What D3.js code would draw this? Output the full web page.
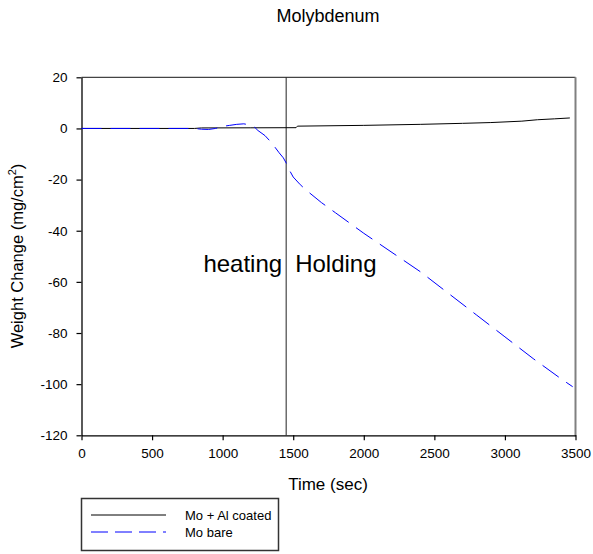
<!DOCTYPE html>
<html>
<head>
    <meta charset="utf-8">
    <title>Molybdenum</title>
    <script src="https://d3js.org/d3.v7.min.js"></script>
    <style>
        body { margin: 0; background: #fff; }
        text { font-family: "Liberation Sans", Arial, sans-serif; fill: #000; }
    </style>
</head>
<body>
    <svg width="593" height="554"></svg>
    <script>
        // data
        var coatedTime   = [0, 800, 850, 1200, 1520, 1530, 2000, 2400, 2700, 2900, 3120, 3230, 3350, 3460];
        var coatedWeight = [0, 0, 0.2, 0.25, 0.3, 0.9, 1.2, 1.6, 2.0, 2.3, 2.85, 3.4, 3.75, 4.1];

        var bareTime   = [0, 400, 800, 850, 900, 950, 1000, 1050, 1100, 1150, 1200, 1230, 1250, 1300, 1350, 1400, 1430, 1450, 1470, 1500, 1550, 1600, 1700, 1800, 2000, 2200, 2400, 2600, 2800, 3000, 3200, 3400, 3480];
        var bareWeight = [0, 0, 0, -0.3, -0.4, 0, 0.8, 1.2, 1.6, 1.8, 1.3, 0.3, -0.8, -2.8, -5.8, -9.5, -11.5, -13.5, -16, -19, -22, -24.5, -29, -33, -41, -48.5, -56, -64.5, -73, -81.5, -90, -98, -101];

        var xTicks = [0, 500, 1000, 1500, 2000, 2500, 3000, 3500];
        var yTicks = [20, 0, -20, -40, -60, -80, -100, -120];
        var dividerTime = 1450;
        var seriesNames = ["Mo + Al coated", "Mo bare"];

        var svg = d3.select("svg");
        var plotLeft = 81.5, plotRight = 575.5, plotTop = 77.3, plotBottom = 435.3;

        var x = d3.scaleLinear().domain([0, 3500]).range([plotLeft, plotRight]);
        var y = d3.scaleLinear().domain([-120, 20]).range([plotBottom, plotTop]);

        // title
        svg.append("text")
            .attr("x", 328).attr("y", 22)
            .attr("text-anchor", "middle")
            .style("font-size", "18px")
            .text("Molybdenum");

        // frame top/right
        svg.append("line")
            .attr("x1", plotLeft).attr("x2", plotRight).attr("y1", plotTop).attr("y2", plotTop)
            .attr("stroke", "#444").attr("stroke-width", 1.2);
        svg.append("line")
            .attr("x1", plotRight).attr("x2", plotRight).attr("y1", plotTop).attr("y2", plotBottom + 1)
            .attr("stroke", "#808080").attr("stroke-width", 2);

        // axes (plain hyphen for negatives, like the original)
        var fmt = function(d) { return String(d); };
        var xAxis = svg.append("g")
            .attr("transform", "translate(0," + plotBottom + ")")
            .call(d3.axisBottom(x).tickValues(xTicks).tickSize(5).tickSizeOuter(0).tickFormat(fmt));
        var yAxis = svg.append("g")
            .attr("transform", "translate(" + plotLeft + ",0)")
            .call(d3.axisLeft(y).tickValues(yTicks).tickSize(5).tickSizeOuter(0).tickFormat(fmt));

        [xAxis, yAxis].forEach(function(a) {
            a.select(".domain").attr("stroke", "#000").attr("stroke-width", 1.3);
            a.selectAll(".tick line").attr("stroke", "#000").attr("stroke-width", 1.2);
            a.selectAll(".tick text")
                .style("font-family", "'Liberation Sans', Arial, sans-serif")
                .style("font-size", "13.5px")
                .attr("fill", "#000");
        });
        xAxis.selectAll(".tick text").attr("y", 13);
        yAxis.selectAll(".tick text").attr("x", -14);

        // axis titles
        svg.append("text")
            .attr("x", 328).attr("y", 490)
            .attr("text-anchor", "middle")
            .style("font-size", "17px")
            .text("Time (sec)");

        var yt = svg.append("text")
            .attr("transform", "translate(23,256) rotate(-90)")
            .attr("text-anchor", "middle")
            .style("font-size", "16.5px");
        yt.append("tspan").text("Weight Change (mg/cm");
        yt.append("tspan").attr("dy", -7).style("font-size", "11px").text("2");
        yt.append("tspan").attr("dy", 7).text(")");

        // divider between heating and holding
        svg.append("line")
            .attr("x1", x(dividerTime)).attr("x2", x(dividerTime))
            .attr("y1", plotTop).attr("y2", plotBottom)
            .attr("stroke", "#222").attr("stroke-width", 1);

        svg.append("text")
            .attr("x", x(dividerTime) - 4).attr("y", 272)
            .attr("text-anchor", "end")
            .style("font-size", "24px")
            .text("heating");
        svg.append("text")
            .attr("x", x(dividerTime) + 9).attr("y", 272)
            .style("font-size", "24px")
            .text("Holding");

        var line = d3.line()
            .x(function(d) { return x(d[0]); })
            .y(function(d) { return y(d[1]); });

        var coated = coatedTime.map(function(t, i) { return [t, coatedWeight[i]]; });
        var bare = bareTime.map(function(t, i) { return [t, bareWeight[i]]; });

        svg.append("path")
            .datum(coated)
            .attr("d", line)
            .attr("fill", "none")
            .attr("stroke", "#000")
            .attr("stroke-width", 1);

        svg.append("path")
            .datum(bare)
            .attr("d", line)
            .attr("fill", "none")
            .attr("stroke", "#0000ff")
            .attr("stroke-width", 1)
            .attr("stroke-dasharray", "20,9");

        // legend
        var lg = svg.append("g");
        lg.append("rect")
            .attr("x", 81.5).attr("y", 498.5)
            .attr("width", 197).attr("height", 52)
            .attr("fill", "none").attr("stroke", "#333").attr("stroke-width", 1.5);
        var styles = [{ stroke: "#000", dash: null }, { stroke: "#0000ff", dash: "17,7" }];
        seriesNames.forEach(function(name, i) {
            var yy = 515 + i * 17;
            lg.append("line")
                .attr("x1", 91).attr("x2", 166).attr("y1", yy).attr("y2", yy)
                .attr("stroke", styles[i].stroke).attr("stroke-width", 1)
                .attr("stroke-dasharray", styles[i].dash);
            lg.append("text")
                .attr("x", 185).attr("y", yy + 5)
                .style("font-size", "13px")
                .text(name);
        });
    </script>
</body>
</html>
